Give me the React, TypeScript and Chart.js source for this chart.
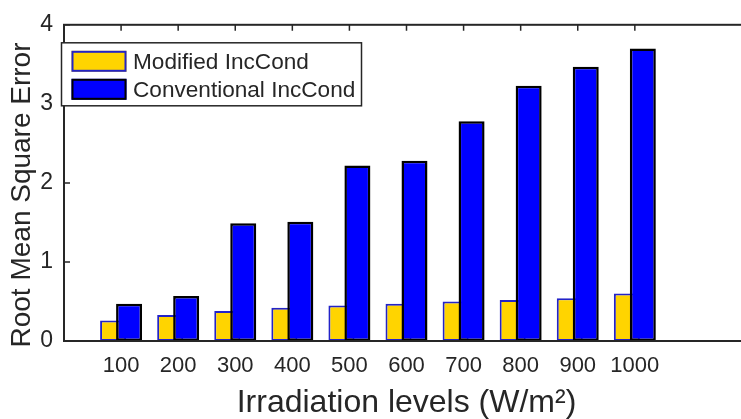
import React, { useEffect, useRef } from 'react';
import { Chart, registerables } from 'chart.js';

Chart.register(...registerables);

const categories = ['100', '200', '300', '400', '500', '600', '700', '800', '900', '1000'];
const modifiedRMSE = [0.26, 0.33, 0.38, 0.42, 0.45, 0.47, 0.5, 0.52, 0.54, 0.6];
const conventionalRMSE = [0.47, 0.57, 1.49, 1.51, 2.22, 2.28, 2.78, 3.23, 3.47, 3.7];
const yTickValues = [0, 1, 2, 3, 4];
const seriesLabels = ['Modified IncCond', 'Conventional IncCond'];
const xTitle = 'Irradiation levels (W/m\u00B2)';
const yTitle = 'Root Mean Square Error';

const FONT = '"Liberation Sans", Arial, Helvetica, sans-serif';
const TEXT = '#262626';
const AXIS = '#262626';
const X_MAX = categories.length + 2;
const SHIFT = 0.14;

const catTicks = (scale: any) => {
  scale.ticks = categories.map((_, i) => ({ value: i + 1 }));
};

const framePlugin = {
  id: 'matlabFrame',
  beforeDatasetsDraw(chart: any) {
    const { ctx, chartArea: a, scales } = chart;
    const tl = 6;
    ctx.save();
    ctx.strokeStyle = AXIS;
    ctx.lineWidth = 1.5;
    ctx.beginPath();
    scales.x.ticks.forEach((t: any) => {
      const px = scales.x.getPixelForValue(t.value);
      ctx.moveTo(px, a.top);
      ctx.lineTo(px, a.top + tl);
      ctx.moveTo(px, a.bottom);
      ctx.lineTo(px, a.bottom - tl);
    });
    scales.y.ticks.forEach((t: any) => {
      const py = scales.y.getPixelForValue(t.value);
      ctx.moveTo(a.left, py);
      ctx.lineTo(a.left + tl, py);
      ctx.moveTo(a.right, py);
      ctx.lineTo(a.right - tl, py);
    });
    ctx.stroke();
    ctx.restore();
  },
  afterDatasetsDraw(chart: any) {
    const { ctx, chartArea: a } = chart;
    ctx.save();
    ctx.strokeStyle = AXIS;
    ctx.lineWidth = 2;
    ctx.strokeRect(a.left, a.top, a.right - a.left, a.bottom - a.top);

    // legend box
    const bx = a.left - 2.5;
    const by = a.top + 18;
    const bw = 300;
    const bh = 63;
    ctx.fillStyle = '#ffffff';
    ctx.fillRect(bx, by, bw, bh);
    ctx.lineWidth = 1.5;
    ctx.strokeStyle = AXIS;
    ctx.strokeRect(bx, by, bw, bh);
    const rows = [18.5, 46.5];
    chart.data.datasets.forEach((ds: any, i: number) => {
      const cy = by + rows[i];
      ctx.fillStyle = ds.backgroundColor;
      ctx.fillRect(bx + 10, cy - 10.5, 55, 21);
      ctx.strokeStyle = ds.borderColor;
      ctx.lineWidth = 2;
      ctx.strokeRect(bx + 11, cy - 9.5, 53, 19);
      ctx.fillStyle = TEXT;
      ctx.font = `22.6px ${FONT}`;
      ctx.textAlign = 'left';
      ctx.textBaseline = 'middle';
      ctx.fillText(ds.label, bx + 71.5, cy + 1);
    });

    // y title
    ctx.translate(22, 195);
    ctx.rotate(-Math.PI / 2);
    ctx.fillStyle = TEXT;
    ctx.font = `28px ${FONT}`;
    ctx.textAlign = 'center';
    ctx.textBaseline = 'middle';
    ctx.fillText(yTitle, 0, 0);
    ctx.restore();
  },
};

export default function App() {
  const ref = useRef<HTMLCanvasElement | null>(null);
  useEffect(() => {
    if (!ref.current) return;
    const chart = new Chart(ref.current, {
      type: 'bar',
      data: {
        datasets: [
          {
            label: seriesLabels[0],
            data: modifiedRMSE.map((v, i) => ({ x: i + 1, y: v })),
            backgroundColor: '#FFD400',
            borderColor: '#2323C8',
            borderWidth: 2,
            borderSkipped: false,
            xAxisID: 'xa',
            order: 1,
            grouped: false,
            categoryPercentage: 1,
            barPercentage: 0.4555,
          },
          {
            label: seriesLabels[1],
            data: conventionalRMSE.map((v, i) => ({ x: i + 1, y: v })),
            backgroundColor: '#0000FF',
            borderColor: '#000000',
            borderWidth: 2.5,
            borderSkipped: false,
            xAxisID: 'xb',
            order: 0,
            grouped: false,
            categoryPercentage: 1,
            barPercentage: 0.4555,
          },
        ] as any,
      },
      plugins: [framePlugin],
      options: {
        animation: false,
        responsive: false,
        devicePixelRatio: 1,
        layout: { padding: { top: 19.5, right: 11, left: 0, bottom: 0 } },
        plugins: { legend: { display: false }, tooltip: { enabled: false } },
        scales: {
          x: {
            type: 'linear',
            offset: false,
            min: 0,
            max: X_MAX,
            afterBuildTicks: catTicks,
            afterFit: (s: any) => { s.height = 78; s.paddingLeft = 0; s.paddingRight = 0; },
            grid: { display: false, drawTicks: false, offset: false },
            border: { display: false },
            ticks: {
              autoSkip: false,
              maxRotation: 0,
              padding: 12,
              color: TEXT,
              font: { family: FONT, size: 22 },
              callback: (v: any) => categories[Number(v) - 1] ?? '',
            },
            title: {
              display: true,
              text: xTitle,
              color: TEXT,
              font: { family: FONT, size: 32, lineHeight: 1 },
              padding: { top: 0, bottom: 0 },
            },
          },
          xa: {
            type: 'linear',
            display: false,
            offset: false,
            grid: { offset: false },
            min: SHIFT,
            max: X_MAX + SHIFT,
            afterBuildTicks: catTicks,
          },
          xb: {
            type: 'linear',
            display: false,
            offset: false,
            grid: { offset: false },
            min: -SHIFT,
            max: X_MAX - SHIFT,
            afterBuildTicks: catTicks,
          },
          y: {
            type: 'linear',
            min: 0,
            max: 4,
            afterBuildTicks: (s: any) => { s.ticks = yTickValues.map((v) => ({ value: v })); },
            afterFit: (s: any) => { s.width = 64; },
            grid: { display: false, drawTicks: false },
            border: { display: false },
            ticks: {
              padding: 11,
              color: TEXT,
              font: { family: FONT, size: 23 },
            },
          },
        },
      } as any,
    });
    return () => chart.destroy();
  }, []);
  return (
    <div style={{ position: 'fixed', left: 0, top: 0, width: 741, height: 419, overflow: 'hidden', background: '#fff' }}>
      <canvas ref={ref} width={760} height={419} style={{ width: 760, height: 419, display: 'block' }} />
    </div>
  );
}
